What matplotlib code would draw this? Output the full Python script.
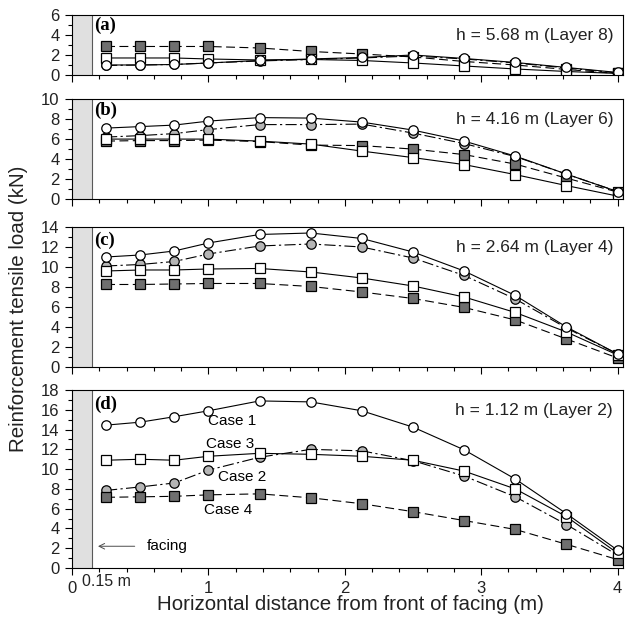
import numpy as np
import matplotlib
matplotlib.use("Agg")
import matplotlib.pyplot as plt
from matplotlib.ticker import MultipleLocator

plt.rcParams['font.family'] = ['Liberation Sans', 'DejaVu Sans']

# distance from front of facing (m)
x = [0.25, 0.5, 0.75, 1.0, 1.375, 1.75, 2.125, 2.5, 2.875, 3.25, 3.625, 4.0]

panels = ['(a)', '(b)', '(c)', '(d)']
heights = ['h = 5.68 m (Layer 8)', 'h = 4.16 m (Layer 6)',
           'h = 2.64 m (Layer 4)', 'h = 1.12 m (Layer 2)']
ymax = [6, 10, 14, 18]

# tensile load (kN), one list per panel
case1 = [
    [1.0, 1.0, 1.05, 1.2, 1.45, 1.6, 1.75, 2.0, 1.65, 1.25, 0.75, 0.25],
    [7.1, 7.25, 7.4, 7.8, 8.15, 8.1, 7.7, 6.9, 5.8, 4.3, 2.5, 0.75],
    [11.0, 11.2, 11.6, 12.4, 13.25, 13.4, 12.85, 11.5, 9.6, 7.15, 4.0, 1.3],
    [14.45, 14.75, 15.3, 15.9, 16.9, 16.8, 15.9, 14.25, 11.95, 9.0, 5.5, 1.8],
]
case2 = [
    [0.95, 1.0, 1.05, 1.2, 1.4, 1.55, 1.7, 1.9, 1.6, 1.2, 0.7, 0.2],
    [6.2, 6.35, 6.55, 6.95, 7.45, 7.45, 7.5, 6.6, 5.55, 4.25, 2.5, 0.75],
    [10.1, 10.25, 10.55, 11.3, 12.1, 12.3, 12.0, 10.9, 9.15, 6.8, 3.9, 1.3],
    [7.85, 8.2, 8.6, 9.9, 11.2, 12.0, 11.85, 10.85, 9.3, 7.2, 4.4, 1.3],
]
case3 = [
    [1.7, 1.7, 1.7, 1.6, 1.5, 1.55, 1.45, 1.2, 0.9, 0.6, 0.35, 0.15],
    [6.0, 6.0, 6.0, 6.0, 5.8, 5.5, 4.8, 4.15, 3.45, 2.45, 1.35, 0.3],
    [9.6, 9.7, 9.7, 9.8, 9.85, 9.5, 8.9, 8.1, 7.0, 5.45, 3.5, 1.2],
    [10.9, 11.0, 10.9, 11.3, 11.6, 11.5, 11.3, 10.9, 9.8, 8.0, 5.2, 1.5],
]
case4 = [
    [2.85, 2.85, 2.85, 2.85, 2.7, 2.35, 2.1, 1.8, 1.35, 1.0, 0.55, 0.15],
    [5.8, 5.85, 5.85, 5.9, 5.75, 5.4, 5.35, 5.0, 4.45, 3.5, 2.1, 0.7],
    [8.25, 8.25, 8.3, 8.35, 8.35, 8.05, 7.5, 6.85, 5.95, 4.7, 2.8, 0.9],
    [7.15, 7.2, 7.25, 7.4, 7.5, 7.1, 6.5, 5.7, 4.8, 3.9, 2.4, 0.85],
]

fig = plt.figure(figsize=(6.29, 6.30), dpi=100)
boxes = [[0.1145, 0.881, 0.876, 0.0952],
         [0.1145, 0.684, 0.876, 0.1587],
         [0.1145, 0.4175, 0.876, 0.2222],
         [0.1145, 0.0984, 0.876, 0.2825]]

mk = dict(ms=6.8, mew=0.9, mec='black')
for i in range(4):
    ax = fig.add_axes(boxes[i])
    ax.axvspan(0, 0.15, color='#e0e0e0', lw=0, zorder=0)
    ax.axvline(0.15, color='0.35', lw=0.8, zorder=1)
    ax.plot(x, case2[i], color='black', lw=0.8, dashes=[10, 3, 2, 3],
            marker='o', mfc='#b5b5b5', **mk)
    ax.plot(x, case4[i], color='black', lw=0.8, dashes=[8, 4],
            marker='s', mfc='#6f6f6f', **mk)
    ax.plot(x, case3[i], '-', color='black', lw=0.8, marker='s', mfc='white', **mk)
    ax.plot(x, case1[i], '-', color='black', lw=0.8, marker='o', mfc='white', **mk)
    ax.set_xlim(0, 4.04)
    ax.set_ylim(0, ymax[i])
    ax.yaxis.set_major_locator(MultipleLocator(2))
    ax.yaxis.set_minor_locator(MultipleLocator(1))
    ax.xaxis.set_major_locator(MultipleLocator(1))
    ax.xaxis.set_minor_locator(MultipleLocator(0.2))
    ax.tick_params(which='major', length=5, width=0.8, labelsize=12, pad=4,
                   labelcolor='#222222')
    ax.tick_params(which='minor', length=3, width=0.8)
    for s in ax.spines.values():
        s.set_linewidth(0.8)
    if i < 3:
        ax.set_xticklabels([])
    ax.text(0.165, 0.97 * ymax[i], panels[i], ha='left', va='top',
            family='Liberation Serif', fontweight='bold', fontsize=13.5)
    ax.annotate(heights[i], xy=(0.982, 1), xycoords='axes fraction',
                xytext=(0, -14.5), textcoords='offset points',
                ha='right', va='center', fontsize=12.5, color='#222222')

# bottom panel extras
ax.text(0.25, -0.6, '0.15 m', ha='center', va='top', fontsize=11.5, color='#222222')
ax.text(1.0, 14.85, 'Case 1', ha='left', va='center', fontsize=11)
ax.text(0.98, 12.5, 'Case 3', ha='left', va='center', fontsize=11)
ax.text(1.07, 9.2, 'Case 2', ha='left', va='center', fontsize=11)
ax.text(0.97, 5.9, 'Case 4', ha='left', va='center', fontsize=11)
ax.annotate('', xy=(0.17, 2.2), xytext=(0.48, 2.2),
            arrowprops=dict(arrowstyle='->', color='0.3', lw=0.7))
ax.text(0.55, 2.2, 'facing', ha='left', va='center', fontsize=11)

fig.text(0.029, 0.51, 'Reinforcement tensile load (kN)', rotation=90,
         ha='center', va='center', fontsize=14.8, color='#222222')
fig.text(0.557, 0.04, 'Horizontal distance from front of facing (m)',
         ha='center', va='center', fontsize=14.8, color='#222222')

plt.savefig('out.png', dpi=100)
